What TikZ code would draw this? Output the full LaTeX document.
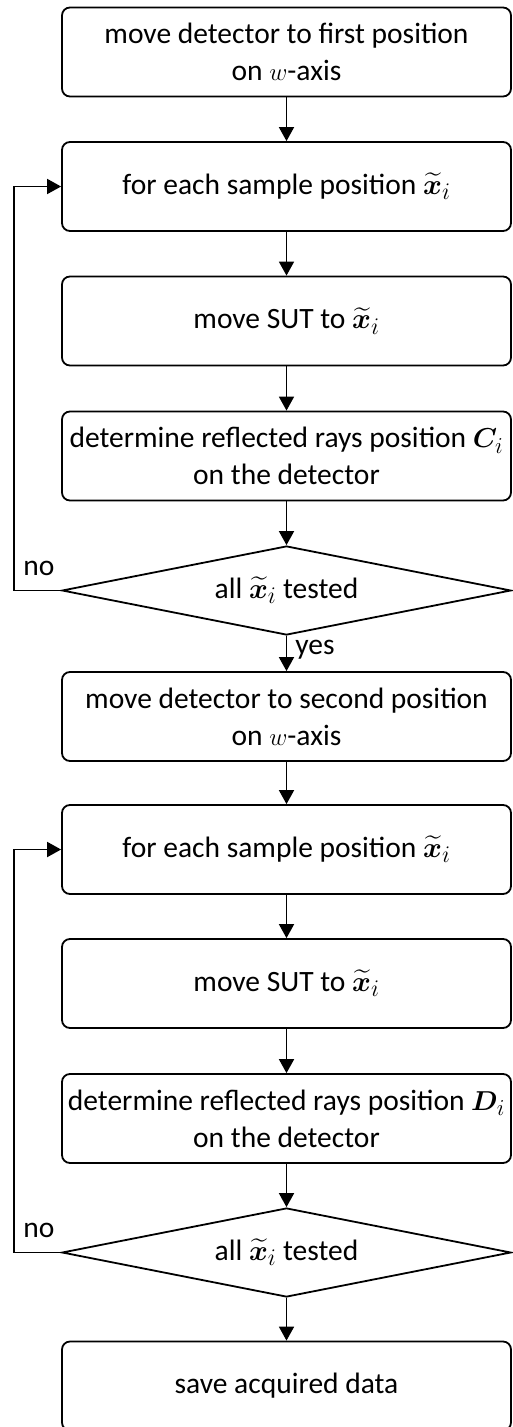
\documentclass[tikz,border=0pt]{standalone}
\usepackage{amsmath}
\usepackage{bm}
\usepackage{graphicx}
\usepackage{fontspec}
\setmainfont{Carlito}
\usetikzlibrary{shapes.geometric,arrows.meta}

% bold sample position symbol, set slightly larger to sit with the text face
\newcommand{\xt}{\raisebox{0pt}{\scalebox{1.15}{$\widetilde{\bm{x}}_i$}}}
\newcommand{\bvec}[1]{\scalebox{1.1}{$\bm{#1}_i$}}

\tikzset{
  basefont/.style={font=\fontsize{29.5}{37}\selectfont},
  stepbox/.style={draw, line width=1.8pt, rounded corners=8pt,
    minimum width=449pt, minimum height=89pt, inner sep=0pt,
    align=center, basefont},
  decision/.style={draw, diamond, line width=1.8pt, aspect=5,
    minimum width=449pt, minimum height=89pt, inner sep=0pt,
    basefont},
  flow/.style={line width=1.8pt, -{Triangle[length=14pt,width=15pt]}},
  lbl/.style={basefont, inner sep=0pt}
}

\begin{document}
\begin{tikzpicture}[x=1pt, y=-1pt]
\useasboundingbox (0,0) rectangle (512,1427);

\node[stepbox] (b1) at (286.5,52)   {move detector to first position\\on $w$-axis};
\node[stepbox] (b2) at (286.5,186.5){for each sample position \xt};
\node[stepbox] (b3) at (286.5,321)  {move SUT to \xt};
\node[stepbox] (b4) at (286.5,456)  {determine reflected rays position \bvec{C}\\on the detector};
\node[decision] (d1) at (286.5,590.5){all \xt{} tested};
\node[stepbox] (b5) at (286.5,716.5){move detector to second position\\on $w$-axis};
\node[stepbox] (b6) at (286.5,849.5){for each sample position \xt};
\node[stepbox] (b7) at (286.5,983.5){move SUT to \xt};
\node[stepbox] (b8) at (286.5,1118.5){determine reflected rays position \bvec{D}\\on the detector};
\node[decision] (d2) at (286.5,1252.5){all \xt{} tested};
\node[stepbox] (b9) at (286.5,1386){save acquired data};

% straight flow
\draw[flow] (b1) -- (b2);
\draw[flow] (b2) -- (b3);
\draw[flow] (b3) -- (b4);
\draw[flow] (b4) -- (d1);
\draw[flow] (d1) -- node[lbl, right=8pt, pos=0.4] {yes} (b5);
\draw[flow] (b5) -- (b6);
\draw[flow] (b6) -- (b7);
\draw[flow] (b7) -- (b8);
\draw[flow] (b8) -- (d2);
\draw[flow] (d2) -- (b9);

% loops back to the sample iteration
\coordinate (l1) at (14,0);
\draw[flow] (d1.west) -- (d1.west -| l1) |- (b2.west);
\node[lbl] (n1) at (39,568) {no};
\draw[flow] (d2.west) -- (d2.west -| l1) |- (b6.west);
\node[lbl] (n2) at (39,1230) {no};
\end{tikzpicture}
\end{document}
